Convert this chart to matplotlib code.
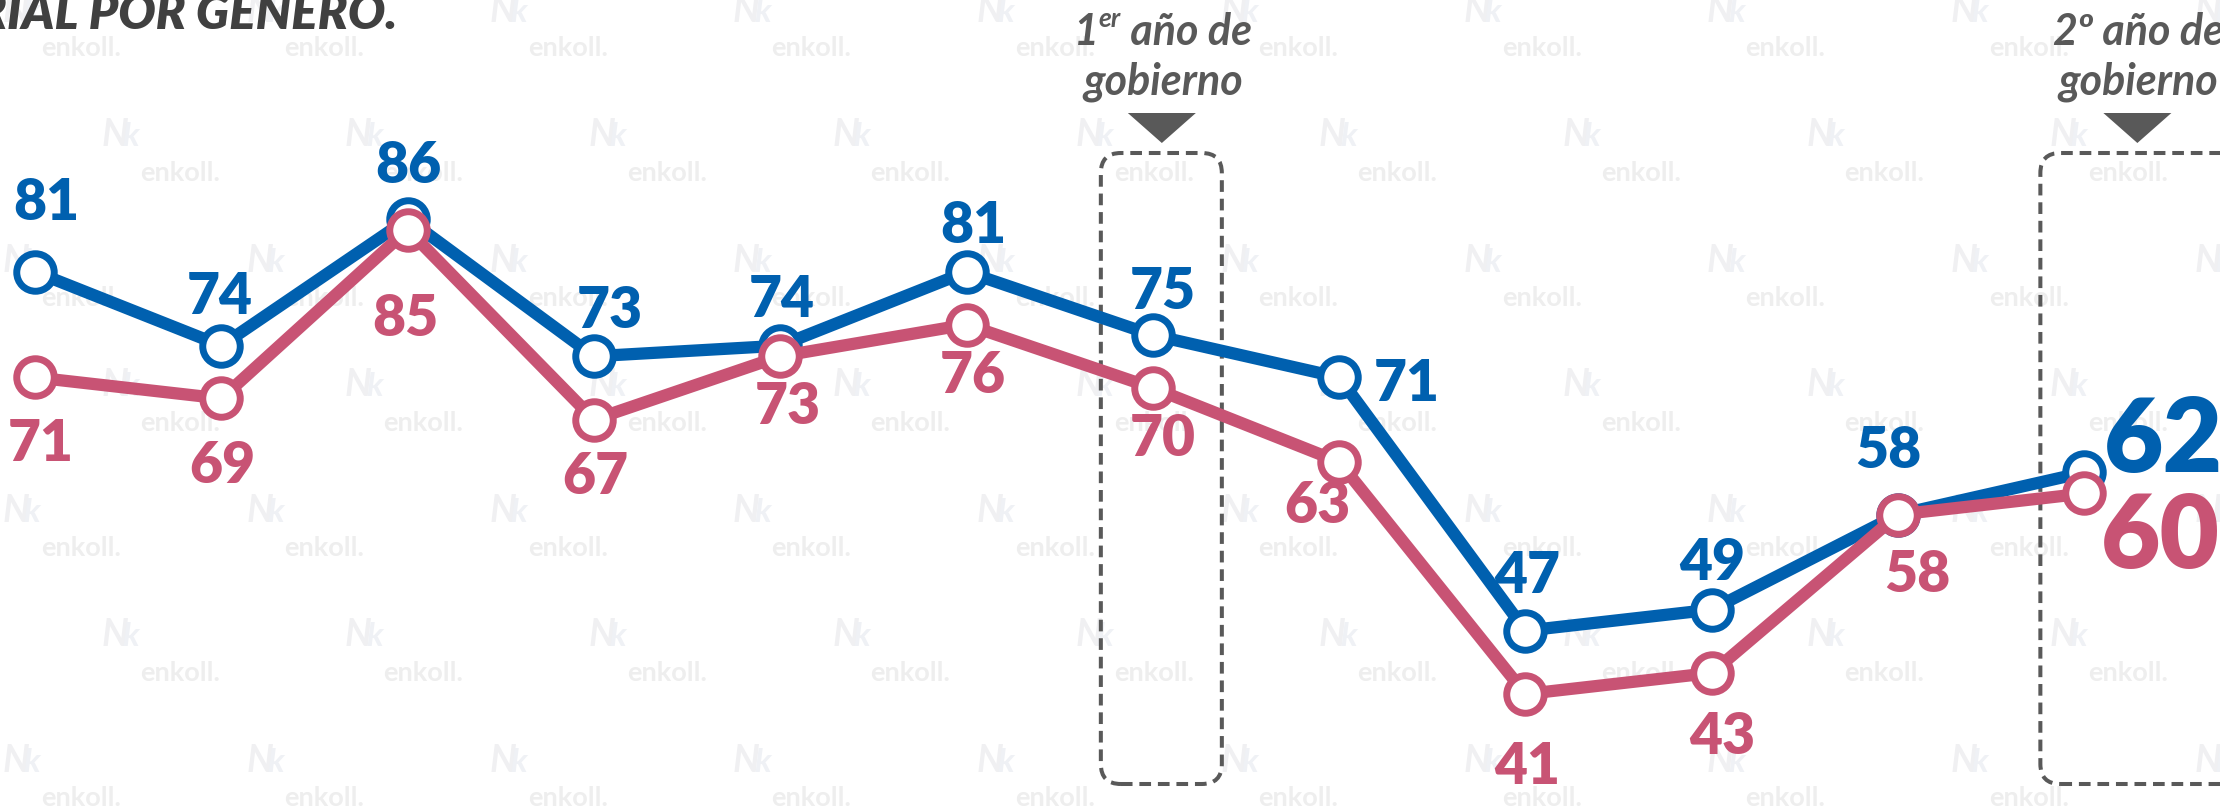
import matplotlib
matplotlib.use("Agg")
import matplotlib.pyplot as plt
from matplotlib.transforms import IdentityTransform
from matplotlib.patches import FancyBboxPatch, Polygon
import numpy as np

# ---------------- data ----------------
periodos = list(range(12))
hombres = [81, 74, 86, 73, 74, 81, 75, 71, 47, 49, 58, 62]
mujeres = [71, 69, 85, 67, 73, 76, 70, 63, 41, 43, 58, 60]
titulo = "APROBACIÓN PRESIDENCIAL: HISTORIAL POR GENERO."
hitos_idx = [6, 11]
hitos_txt1 = ["año de", "año de"]
hitos_num = ["1", "2º"]
hitos_sup = ["er", ""]
hitos_txt2 = ["gobierno", "gobierno"]

# ---------------- style ----------------
W, H, DPI = 2220, 807, 100
BLUE = "#0060AF"
PINK = "#C85374"
GRAY = "#595959"
FONT = "Lato"
PT = 72.0 / DPI  # px -> pt

fig = plt.figure(figsize=(W / DPI, H / DPI), dpi=DPI)
ax = fig.add_axes([0, 0, 1, 1])
ax.set_xlim(-0.1879, 11.728)
ax.set_ylim(30.30, 106.75)
ax.axis("off")
ax.patch.set_visible(False)
ID = IdentityTransform()


def disp(x, y_top):
    return x, H - y_top


# ---------------- watermark ----------------
for r in range(-1, 8):
    yt = 48 + 125 * r
    xs0 = 81 if r % 2 == 0 else 180
    for c in range(-1, 11):
        xt = xs0 + 243.5 * c
        ax.text(*disp(xt, yt), "enkoll.", transform=ID, ha="center", va="center",
                fontsize=19.5, fontweight="bold", family=FONT, color="#EEEEEE",
                zorder=0, clip_on=False)
        lx, ly = xt - 59, yt - 38
        ax.text(*disp(lx - 6, ly), "N", transform=ID, ha="center", va="center",
                fontsize=27, fontweight="bold", fontstyle="italic", family=FONT,
                color="#F0F0F2", zorder=0, clip_on=False)
        ax.text(*disp(lx + 10, ly + 2), "k", transform=ID, ha="center", va="center",
                fontsize=24, fontweight="bold", fontstyle="italic", family=FONT,
                color="#EFF1F5", zorder=0, clip_on=False)

# ---------------- title ----------------
ax.text(*disp(397, 29), titulo, transform=ID, ha="right", va="baseline",
        fontsize=35.5, fontweight="heavy", fontstyle="italic", family=FONT,
        color="#404040", zorder=5, clip_on=False)

# ---------------- lines ----------------
ax.plot(periodos, hombres, color=BLUE, lw=8.8, marker="o", ms=27, mew=5,
        mfc="white", mec=BLUE, zorder=3, solid_joinstyle="miter")
ax.plot(periodos, mujeres, color=PINK, lw=8.8, marker="o", ms=27, mew=5,
        mfc="white", mec=PINK, zorder=4, solid_joinstyle="miter")

# label offsets in pixels (dx, dy-down) of the digit centre from the point
off_h = [(11, -72), (-2, -52), (1, -57), (16, -49), (2, -49), (7, -49),
         (10, -47), (68, 3), (2, -58), (0, -50), (-10, -67), None]
off_m = [(6, 63), (1, 64), (-2, 86), (1, 54), (8, 47), (6, 48),
         (10, 48), (-22, 41), (2, 69), (11, 61), (19, 57), None]
LFS = 41
DIG = 41  # digit height px

for serie, offs, col in [(hombres, off_h, BLUE), (mujeres, off_m, PINK)]:
    for i, v in enumerate(serie):
        o = offs[i]
        if o is None:
            continue
        dx, dy = o
        ax.annotate(f"{v}", xy=(periodos[i], v), xytext=(dx * PT, -(dy + DIG / 2) * PT),
                    textcoords="offset points", ha="center", va="baseline",
                    fontsize=LFS, fontweight="heavy", family=FONT, color=col, zorder=6)

# last, big labels
BFS = 74
BIG = 74
ax.annotate(f"{hombres[-1]}", xy=(periodos[-1], hombres[-1]),
            xytext=(20 * PT, -(-37 + BIG / 2) * PT), textcoords="offset points",
            ha="left", va="baseline", fontsize=BFS, fontweight="heavy", family=FONT,
            color=BLUE, zorder=6, annotation_clip=False)
ax.annotate(f"{mujeres[-1]}", xy=(periodos[-1], mujeres[-1]),
            xytext=(17 * PT, -(38 + BIG / 2) * PT), textcoords="offset points",
            ha="left", va="baseline", fontsize=BFS, fontweight="heavy", family=FONT,
            color=PINK, zorder=6, annotation_clip=False)

# ---------------- milestone boxes ----------------
fig.canvas.draw()
renderer = fig.canvas.get_renderer()
box_geom = [(-52, 121), (-44, 220)]  # x offset from point, width (px)
txt_dx = [10, 54]
for k, idx in enumerate(hitos_idx):
    px, _ = ax.transData.transform((periodos[idx], 50))
    x0 = px + box_geom[k][0]
    bw = box_geom[k][1]
    box = FancyBboxPatch((x0, H - 784), bw, 784 - 153,
                         boxstyle="round,pad=0,rounding_size=20", transform=ID,
                         fill=False, ec=GRAY, lw=2.9, linestyle=(0, (2.9, 1.7)),
                         zorder=2, clip_on=False)
    ax.add_patch(box)
    tc = px + txt_dx[k] - 1
    tri = Polygon([disp(tc - 34, 113), disp(tc + 34, 113), disp(tc, 143)],
                  closed=True, transform=ID, fc=GRAY, ec="none", zorder=5,
                  clip_on=False)
    ax.add_patch(tri)

    # first line with superscript
    fs, fs_sup = 31, 19
    pieces = [(hitos_num[k], fs, 0), (hitos_sup[k], fs_sup, 18), (" " + hitos_txt1[k], fs, 0)]
    arts = []
    widths = []
    for s, size, rise in pieces:
        t = ax.text(0, 0, s, transform=ID, fontsize=size, fontweight="bold",
                    fontstyle="italic", family=FONT, color=GRAY, ha="left",
                    va="baseline", zorder=5, clip_on=False)
        arts.append((t, rise))
        widths.append(t.get_window_extent(renderer).width if s else 0)
    total = sum(widths)
    cx = tc + 1
    xcur = cx - total / 2
    for (t, rise), wdt in zip(arts, widths):
        t.set_position(disp(xcur, 45 - rise))
        xcur += wdt
    ax.text(*disp(cx, 95), hitos_txt2[k], transform=ID, fontsize=fs, fontweight="bold",
            fontstyle="italic", family=FONT, color=GRAY, ha="center", va="baseline",
            zorder=5, clip_on=False)

fig.savefig("out.png", dpi=DPI, facecolor="white")
